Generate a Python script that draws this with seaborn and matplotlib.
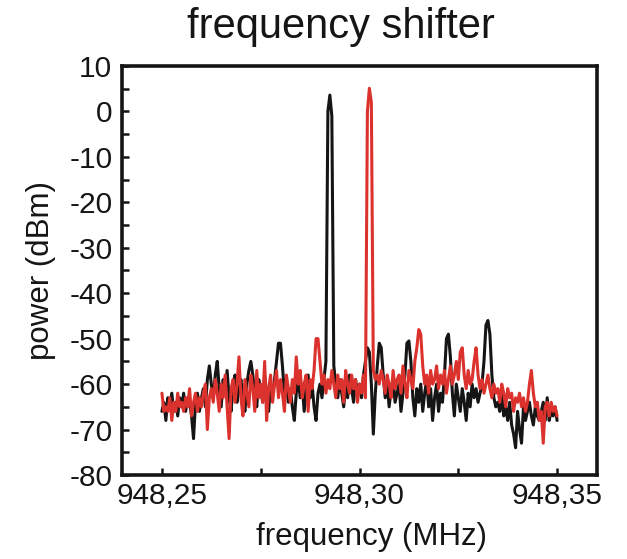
import numpy as np
import pandas as pd
import matplotlib
matplotlib.use("Agg")
import matplotlib.pyplot as plt
import seaborn as sns
from matplotlib.ticker import MultipleLocator, FuncFormatter

# ---- data ----
f_start, f_stop = 948.25, 948.35

black_power = [
    -66, -64, -68, -63, -65, -62, -66, -64, -67, -63,
    -65, -62, -66, -63, -64, -67, -72, -64, -62, -66,
    -63, -61, -65, -59, -56, -60, -63, -58, -55, -61,
    -65, -59, -62, -57, -63, -66, -60, -58, -64, -61,
    -59, -63, -66, -60, -57, -55, -58, -62, -65, -59,
    -61, -64, -58, -62, -66, -60, -63, -59, -55, -51,
    -51, -56, -62, -60, -64, -61, -65, -68, -62, -59,
    -63, -60, -66, -61, -58, -63, -60, -65, -68, -62,
    -60, -63, -59, -55, 0, 3.6, -1, -56, -60, -63,
    -59, -62, -65, -60, -63, -58, -61, -64, -59, -62,
    -60, -63, -58, -55, -52, -53, -60, -71, -62, -56,
    -51, -52, -58, -63, -60, -65, -61, -59, -64, -62,
    -60, -66, -62, -58, -51, -50.5, -55, -63, -67, -61,
    -64, -60, -66, -62, -59, -65, -61, -68, -63, -60,
    -66, -62, -64, -58, -50, -49, -54, -62, -67, -60,
    -63, -66, -61, -64, -68, -62, -65, -60, -63, -61,
    -64, -62, -60, -55, -47, -46, -49, -58, -63, -65,
    -64, -66, -62, -67, -65, -68, -64, -69, -71, -74,
    -66, -70, -73, -65, -68, -66, -64, -67, -69, -65,
    -67, -68, -66, -64, -68, -63, -68, -66, -67, -65,
    -68,
]

red_power = [
    -62, -66, -65, -66, -63, -68, -64, -66, -62, -65,
    -64, -66, -63, -65, -61, -67, -64, -62, -66, -63,
    -65, -62, -60, -70, -63, -61, -64, -59, -62, -66,
    -60, -63, -58, -65, -72, -61, -59, -64, -60, -54,
    -63, -67, -59, -62, -65, -58, -61, -66, -57, -63,
    -60, -64, -55, -68, -61, -58, -64, -60, -57, -63,
    -59, -62, -66, -58, -61, -64, -59, -62, -54, -60,
    -57, -63, -60, -58, -66, -59, -61, -57, -50, -50,
    -55, -60, -58, -62, -59, -61, -57, -60, -63, -58,
    -61, -59, -64, -57, -60, -62, -58, -61, -59, -64,
    -60, -62, -58, -63, 0, 5.1, 2, -57, -59, -58,
    -60, -57, -59, -62, -58, -60, -63, -57, -61, -59,
    -58, -62, -56, -60, -63, -57, -59, -61, -55, -52,
    -48, -49, -56, -60, -58, -62, -57, -60, -59, -56,
    -61, -58, -60, -57, -62, -59, -56, -60, -58, -55,
    -59, -53, -52, -58, -61, -57, -60, -59, -55, -52,
    -58, -61, -59, -62, -60, -58, -61, -63, -60, -62,
    -61, -64, -60, -62, -65, -61, -63, -62, -66, -63,
    -64, -62, -65, -63, -66, -64, -60, -57, -62, -65,
    -64, -68, -66, -73, -65, -64, -67, -64, -66, -65,
    -67,
]

trace_names = ["unshifted", "shifted"]
trace_colors = ["#151515", "#dc322d"]

title_text = "frequency shifter"
x_label = "frequency (MHz)"
y_label = "power (dBm)"

# ---- build table ----
n = len(black_power)
freq = np.linspace(f_start, f_stop, n)
df = pd.DataFrame({
    "frequency": np.concatenate([freq, freq]),
    "power": black_power + red_power,
    "trace": [trace_names[0]] * n + [trace_names[1]] * n,
})

sns.set_theme(style="white")
plt.rcParams["font.family"] = ["Liberation Sans", "DejaVu Sans"]
plt.rcParams["axes.unicode_minus"] = False

fig = plt.figure(figsize=(6.27, 5.59), dpi=100)
ax = fig.add_axes([122 / 627, 1 - 475 / 559, 475 / 627, 409 / 559])

sns.lineplot(
    data=df, x="frequency", y="power", hue="trace",
    hue_order=trace_names, palette=dict(zip(trace_names, trace_colors)),
    estimator=None, sort=False, linewidth=2.2, legend=False, ax=ax,
)

ax.set_xlim(948.2399, 948.3601)
ax.set_ylim(-80, 10)

ax.xaxis.set_major_locator(MultipleLocator(0.05))
ax.xaxis.set_minor_locator(MultipleLocator(0.025))
ax.yaxis.set_major_locator(MultipleLocator(10))
ax.yaxis.set_minor_locator(MultipleLocator(5))
ax.xaxis.set_major_formatter(FuncFormatter(lambda v, p: f"{v:.2f}".replace(".", ",")))
ax.yaxis.set_major_formatter(FuncFormatter(lambda v, p: f"{v:.0f}"))

ax.tick_params(axis="both", which="both", direction="in", length=5, width=1.8,
               color="#151515", bottom=True, left=True, top=False, right=False)
ax.tick_params(axis="x", which="major", labelsize=21.5, pad=5, labelcolor="#151515")
ax.tick_params(axis="y", which="major", labelsize=21.5, pad=7, labelcolor="#151515")

for sp in ax.spines.values():
    sp.set_visible(True)
    sp.set_linewidth(2.6)
    sp.set_color("#151515")

ax.set_xlabel(x_label, fontsize=22.5, color="#151515")
ax.set_ylabel(y_label, fontsize=22.5, color="#151515")
ax.xaxis.set_label_coords((372 - 122) / 475, (475 - 522) / 409)
ax.yaxis.set_label_coords((56 - 122) / 475, 0.5)

fig.text(341 / 627, 1 - 27 / 559, title_text, ha="center", va="center",
         fontsize=30, color="#151515")

fig.savefig("out.png", dpi=100, facecolor="white")
